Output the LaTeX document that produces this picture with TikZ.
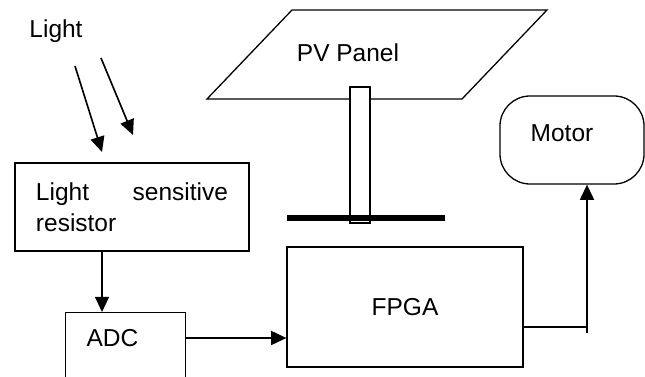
\documentclass[tikz,border=0pt]{standalone}
\usepackage{fontspec}
\setmainfont{Liberation Sans}
\usetikzlibrary{arrows.meta}
\tikzset{
  blk/.style={draw, line width=1.1pt, inner sep=0pt},
  arr/.style={line width=1.4pt, -{Triangle[length=13pt,width=12pt]}},
}
\begin{document}
\begin{tikzpicture}[x=0.03cm, y=-0.03cm, every node/.style={font=\fontsize{20.9}{26.5}\selectfont}]
\useasboundingbox (0,0) rectangle (645,377);
\clip (0,0) rectangle (645,377);
% light falling on the sensor
\node (light) at (56,31) {Light};
\coordinate (ray1) at (75,66);
\coordinate (ray2) at (101,58);
\coordinate (hit1) at (102,152);
\coordinate (hit2) at (133,135);
\draw[arr] (ray1) -- (hit1);
\draw[arr] (ray2) -- (hit2);
% sensor, converter and controller
\node[blk, minimum width=7.02cm, minimum height=2.64cm, text width=5.76cm, align=left] (lsr) at (132,207) {Light\hfill sensitive\\resistor};
\node[blk, anchor=north west, minimum width=3.6cm, minimum height=3cm] (adc) at (65,312) {};
\node (adctxt) at (112.5,338) {ADC};
\node[blk, minimum width=7.08cm, minimum height=3.6cm] (fpga) at (405,307) {FPGA};
\node[blk, rounded corners=0.9cm, minimum width=4.32cm, minimum height=2.64cm] (motor) at (572,140) {};
\node (motortxt) at (562,133) {Motor};
% panel on its stand
\draw[line width=1.1pt] (292,10) -- (547,10) -- (462,99) -- (207,99) -- cycle;
\node (pv) at (348,53) {PV Panel};
\draw[line width=1.1pt, fill=white] (350,87) rectangle (370,223);
\draw[line width=5.1pt] (287,218) -- (445,218);
% signal path
\draw[arr] (lsr.south -| hit1) -- (adc.north -| hit1);
\draw[arr] (adctxt -| adc.east) -- (adctxt -| fpga.west);
\coordinate (tap) at (587,327);
\coordinate (tapend) at (587,333);
\draw[line width=1.4pt] (tap -| fpga.east) -- (tap);
\draw[arr] (tapend) -- (tapend |- motor.south);
\end{tikzpicture}
\end{document}
